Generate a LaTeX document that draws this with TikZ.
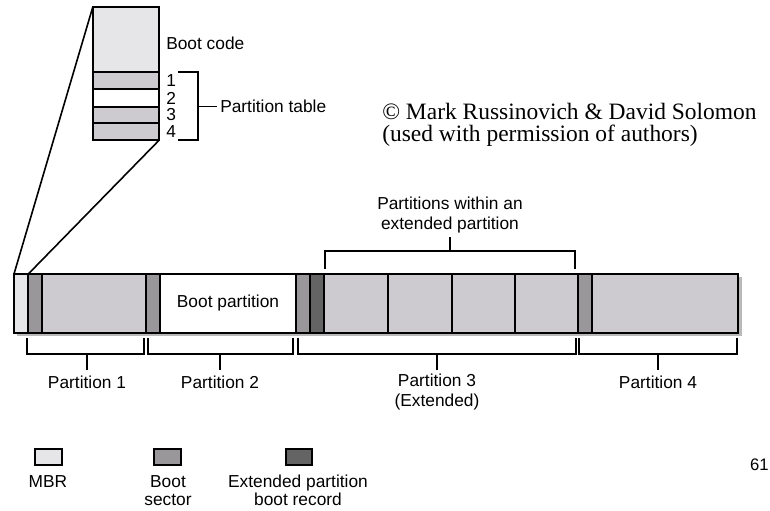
\documentclass[tikz,border=0pt]{standalone}
\usepackage{fontspec}
\setmainfont{Liberation Sans}
\newfontfamily\copyfont{Liberation Serif}
\definecolor{mbrgray}{RGB}{230,230,232}
\definecolor{datagray}{RGB}{205,203,207}
\definecolor{bootgray}{RGB}{154,151,155}
\definecolor{ebrgray}{RGB}{101,100,101}
\definecolor{shadowgray}{RGB}{185,185,185}
\tikzset{
  sector/.style={draw=black,line width=1.5pt},
  brace/.style={draw=black,line width=1.2pt},
  lbl/.style={inner sep=0pt,font=\fontsize{13}{15}\selectfont},
}

\begin{document}
\begin{tikzpicture}[x=0.75pt,y=0.75pt,yscale=-1,xscale=1]
\useasboundingbox (0,0) rectangle (770,510);

%Shape: MBR close-up
\fill[mbrgray] (92.7,7.3) rectangle (159.3,72.3);
\fill[datagray] (92.7,72.3) rectangle (159.3,89.3);
\fill[white] (92.7,89.3) rectangle (159.3,106.7);
\fill[datagray] (92.7,106.7) rectangle (159.3,140);
\draw[sector] (92.7,72.3) -- (159.3,72.3) (92.7,89.3) -- (159.3,89.3) (92.7,106.7) -- (159.3,106.7) (92.7,123.3) -- (159.3,123.3);
\draw[sector] (92.7,7.3) rectangle (159.3,140);
\coordinate (mbrtl) at (92.7,7.3);
\coordinate (mbrbr) at (159.3,140);

%Shape: disk bar shadow
\fill[shadowgray] (17,277) rectangle (741.5,336);
%Shape: disk bar
\fill[mbrgray] (14,274) rectangle (28.3,332.7);
\fill[bootgray] (28.3,274) rectangle (42.3,332.7);
\fill[datagray] (42.3,274) rectangle (145.7,332.7);
\fill[bootgray] (145.7,274) rectangle (160,332.7);
\fill[white] (160,274) rectangle (296,332.7);
\fill[bootgray] (296,274) rectangle (310,332.7);
\fill[ebrgray] (310,274) rectangle (324,332.7);
\fill[datagray] (324,274) rectangle (578.3,332.7);
\fill[bootgray] (578.3,274) rectangle (592.3,332.7);
\fill[datagray] (592.3,274) rectangle (738.3,332.7);
\foreach \xx in {28.3,42.3,145.7,160,296,310,324,388.3,451.7,515,578.3,592.3}
  \draw[sector] (\xx,274) -- (\xx,332.7);
\draw[sector] (14,274) rectangle (738.3,332.7);
\coordinate (barl) at (14,274);
\coordinate (bars) at (28.3,274);

%Straight Lines: zoom lines
\draw[line width=1.2pt] (mbrtl) -- (barl);
\draw[line width=1.2pt] (mbrbr) -- (bars);

%Shape: partition table brace
\draw[brace] (178,72.3) -- (198,72.3) -- (198,140) -- (178,140) (198,106.3) -- (217,106.3);

%Shape: extended brace
\draw[brace] (325,269) -- (325,251) -- (575,251) -- (575,269) (450,251) -- (450,237);

%Shape: lower braces
\foreach \xa/\xb/\xm in {27/144/87, 148/293/220, 298/576/437, 579/737/658}
  \draw[brace] (\xa,338) -- (\xa,354) -- (\xb,354) -- (\xb,338) (\xm,354) -- (\xm,370);

%Shape: legend
\draw[sector,fill=mbrgray] (35,449) rectangle (62,465);
\draw[sector,fill=bootgray] (154,449) rectangle (181,465);
\draw[sector,fill=ebrgray] (286,449) rectangle (312,465);

% Text Node
\node[lbl,anchor=west] (bootcode) at (166,43) {Boot code};
% Text Node
\node[lbl,anchor=west] (entry1) at (166,81) {1};
\node[lbl,anchor=west] (entry2) at (166,98) {2};
\node[lbl,anchor=west] (entry3) at (166,115) {3};
\node[lbl,anchor=west] (entry4) at (166,132) {4};
% Text Node
\node[lbl,anchor=west] (ptable) at (220,106) {Partition table};
% Text Node
\node[inner sep=0pt,anchor=west,align=left,font=\copyfont\fontsize{17.6}{17}\selectfont] (copyright) at (382,125) {© Mark Russinovich \& David Solomon\\(used with permission of authors)};
% Text Node
\node[lbl,align=center,font=\fontsize{13}{15}\selectfont] (extlbl) at (450,215) {Partitions within an\\extended partition};
% Text Node
\node[lbl] (bootpart) at (228,303) {Boot partition};
% Text Node
\node[lbl] (part1) at (87,382) {Partition 1};
\node[lbl] (part2) at (220,382) {Partition 2};
\node[lbl,align=center,font=\fontsize{13}{14.5}\selectfont,anchor=north] (part3) at (437,374) {Partition 3\\(Extended)};
\node[lbl] (part4) at (658,382) {Partition 4};
% Text Node
\node[lbl] (mbr) at (48,482) {MBR};
\node[lbl,align=center,font=\fontsize{13}{13.5}\selectfont,anchor=north] (bootsec) at (168,475) {Boot\\sector};
\node[lbl,align=center,font=\fontsize{13}{13.5}\selectfont,anchor=north] (ebr) at (298,475) {Extended partition\\boot record};
% Text Node
\node[lbl,anchor=east,font=\fontsize{12.5}{14}\selectfont] (page) at (769,465) {61};

\end{tikzpicture}
\end{document}
